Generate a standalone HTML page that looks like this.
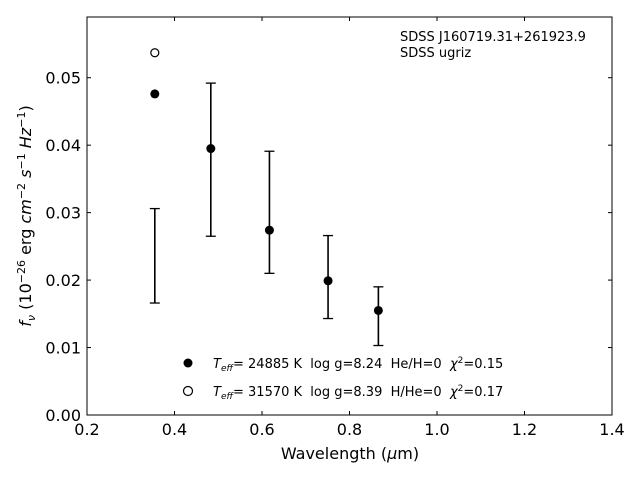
<!DOCTYPE html>
<html><head><meta charset="utf-8"><style>
body{margin:0;background:#fff;}
svg text{font-family:"DejaVu Sans","Liberation Sans",sans-serif;white-space:pre;}
</style></head><body>
<svg id="chart" width="640" height="480" xmlns="http://www.w3.org/2000/svg">
<rect x="0" y="0" width="640" height="480" fill="#fff"/>
<g id="plot"></g>
<text x="400" y="41" font-size="13">SDSS J160719.31+261923.9</text>
<text x="400" y="57" font-size="13">SDSS ugriz</text>
<text x="350" y="459" font-size="16" text-anchor="middle">Wavelength (<tspan font-style="italic">μ</tspan>m)</text>
<text transform="translate(31,216) rotate(-90)" font-size="16" text-anchor="middle"><tspan font-style="italic">f<tspan font-size="11" dy="4">ν</tspan></tspan><tspan dy="-4"> (10</tspan><tspan font-size="11" dy="-6">−26</tspan><tspan dy="6"> erg </tspan><tspan font-style="italic">cm</tspan><tspan font-size="11" dy="-6">−2</tspan><tspan dy="6"> </tspan><tspan font-style="italic">s</tspan><tspan font-size="11" dy="-6">−1</tspan><tspan dy="6"> </tspan><tspan font-style="italic">Hz</tspan><tspan font-size="11" dy="-6">−1</tspan><tspan dy="6">)</tspan></text>
<g>
<circle cx="188" cy="363" r="4.5" fill="#000"/>
<text x="213" y="368" font-size="13"><tspan font-style="italic">T</tspan><tspan font-style="italic" font-size="9" dy="3">eff</tspan><tspan dy="-3">= 24885 K  log g=8.24  He/H=0  </tspan><tspan font-style="italic">χ</tspan><tspan font-size="9" dy="-5">2</tspan><tspan dy="5">=0.15</tspan></text>
<circle cx="188" cy="391" r="4.5" fill="#fff" stroke="#000" stroke-width="1.2"/>
<text x="213" y="396" font-size="13"><tspan font-style="italic">T</tspan><tspan font-style="italic" font-size="9" dy="3">eff</tspan><tspan dy="-3">= 31570 K  log g=8.39  H/He=0  </tspan><tspan font-style="italic">χ</tspan><tspan font-size="9" dy="-5">2</tspan><tspan dy="5">=0.17</tspan></text>
</g>
</svg>
<script>
const xTicks=[0.2,0.4,0.6,0.8,1.0,1.2,1.4];
const xTickLabels=["0.2","0.4","0.6","0.8","1.0","1.2","1.4"];
const yTicks=[0,0.01,0.02,0.03,0.04,0.05];
const yTickLabels=["0.00","0.01","0.02","0.03","0.04","0.05"];
const wavelengths=[0.355,0.483,0.617,0.751,0.866];
const fluxObs=[null,0.0395,0.0274,0.0199,0.0155];
const errLow=[0.0166,0.0265,0.0210,0.0143,0.0103];
const errHigh=[0.0306,0.0492,0.0391,0.0266,0.0190];
const modelFilledX=[0.355];
const modelFilledY=[0.0476];
const modelOpenX=[0.355];
const modelOpenY=[0.0537];
const L=87,R=612,T=17,B=415,xMin=0.2,xMax=1.4,yMin=0,yMax=0.059;
const sx=v=>L+(v-xMin)/(xMax-xMin)*(R-L);
const sy=v=>B-(v-yMin)/(yMax-yMin)*(B-T);
const NS="http://www.w3.org/2000/svg";
const g=document.getElementById('plot');
function mk(t,a){const e=document.createElementNS(NS,t);for(const k in a)e.setAttribute(k,a[k]);g.appendChild(e);return e;}
let fr=mk('rect',{x:L,y:T,width:R-L,height:B-T,fill:'none',stroke:'#000','stroke-width':1});


xTicks.forEach((v,i)=>{const x=sx(v);
 let t=mk('line',{x1:x,x2:x,y1:B,y2:B-4,stroke:'#000'});
 
 
 let t2=mk('line',{x1:x,x2:x,y1:T,y2:T+4,stroke:'#000'});
 
 
 let l=mk('text',{x:x,y:B+20,'font-size':16,'text-anchor':'middle'});l.textContent=xTickLabels[i];
 
 
});
yTicks.forEach((v,i)=>{const y=sy(v);
 let t=mk('line',{x1:L,x2:L+4,y1:y,y2:y,stroke:'#000'});
 
 
 let t2=mk('line',{x1:R,x2:R-4,y1:y,y2:y,stroke:'#000'});
 
 
 let l=mk('text',{x:L-6,y:y+6,'font-size':16,'text-anchor':'end'});l.textContent=yTickLabels[i];
 
 
});
wavelengths.forEach((w,i)=>{const x=sx(w),y1=sy(errLow[i]),y2=sy(errHigh[i]);
 let e=mk('line',{x1:x,x2:x,y1:y1,y2:y2,stroke:'#000','stroke-width':1.6});
 
 
 [y1,y2].forEach(yy=>{let c=mk('line',{x1:x-5,x2:x+5,y1:yy,y2:yy,stroke:'#000','stroke-width':1.3});
  
  });
 if(fluxObs[i]!==null){let p=mk('circle',{cx:x,cy:sy(fluxObs[i]),r:4.5,fill:'#000'});
  
  }
});
modelFilledX.forEach((w,i)=>{let p=mk('circle',{cx:sx(w),cy:sy(modelFilledY[i]),r:4.5,fill:'#000'});
 
 });
modelOpenX.forEach((w,i)=>{let p=mk('circle',{cx:sx(w),cy:sy(modelOpenY[i]),r:4,fill:'#fff',stroke:'#000','stroke-width':1.2});
 
 });
</script>
</body></html>
